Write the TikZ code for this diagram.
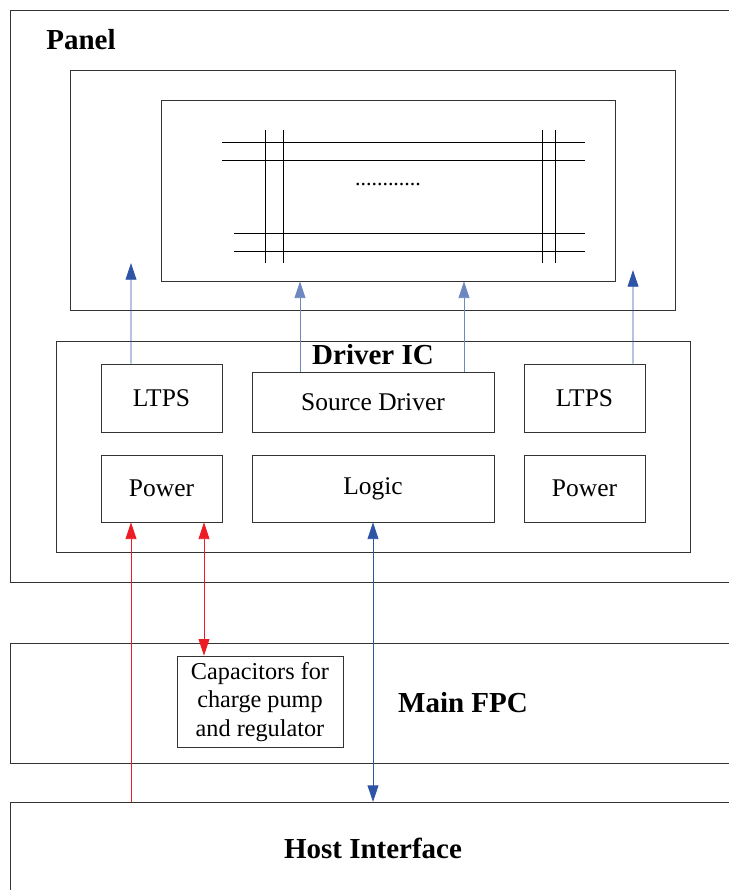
\documentclass[tikz,border=0pt]{standalone}
\usepackage{fontspec}
\setmainfont{Liberation Serif}
\usepackage{tikz}
\usetikzlibrary{arrows.meta,positioning,calc}
\definecolor{arrblue}{RGB}{46,84,166}
\definecolor{arrred}{RGB}{237,28,36}

\begin{document}
\begin{tikzpicture}[line width=0.5pt,
  font=\fontsize{14.5}{17}\selectfont,
  blk/.style={draw=black!80, minimum width=2.42cm, minimum height=1.36cm, inner sep=0pt},
  wide/.style={blk, minimum width=4.84cm},
  band/.style={draw=black!80, anchor=north west, minimum width=15cm, inner sep=0pt},
  ttl/.style={font=\fontsize{16.5}{19}\selectfont\bfseries},
  tip/.style={-{Triangle[length=9.5pt,width=6.2pt]}},
  both/.style={{Triangle[length=9.5pt,width=6.2pt]}-{Triangle[length=9.5pt,width=6.2pt]}},
]
\clip (0,0) rectangle (14.58,-17.8);
% panel
\node[band, minimum height=11.44cm] (panel) at (0.2,-0.2) {};
\node[ttl, anchor=west] (panelt) at (0.8,-0.8) {Panel};
\node[draw=black!80, minimum width=12.1cm, minimum height=4.8cm] (dispo) at (7.45,-3.8) {};
\node[draw=black!80, minimum width=9.08cm, minimum height=3.62cm] (dispi) at (7.76,-3.81) {};
\draw (4.44,-2.84) -- (11.7,-2.84);
\draw (4.44,-3.2) -- (11.7,-3.2);
\draw (4.68,-4.66) -- (11.7,-4.66);
\draw (4.68,-5.02) -- (11.7,-5.02);
\foreach \x in {5.3,5.66,10.84,11.1}
  \draw (\x,-2.6) -- (\x,-5.26);
\node[font=\fontsize{12.5}{14}\selectfont] (dots) at (7.76,-3.7) {............};
% driver IC
\node[draw=black!80, minimum width=12.68cm, minimum height=4.22cm] (ic) at (7.46,-8.93) {};
\node[ttl] (ict) at (7.46,-7.1) {Driver IC};
\node[blk] (ltps1) at (3.23,-7.96) {LTPS};
\node[wide, minimum height=1.2cm] (src) at (7.46,-8.04) {Source Driver};
\node[blk] (ltps2) at (11.69,-7.96) {LTPS};
\node[blk, minimum height=1.34cm] (pow1) at (3.23,-9.77) {Power};
\node[wide, minimum height=1.34cm] (logic) at (7.46,-9.77) {Logic};
\node[blk, minimum height=1.34cm] (pow2) at (11.69,-9.77) {Power};
% FPC and host
\node[band, minimum height=2.4cm] (fpc) at (0.2,-12.86) {};
\node[ttl] (fpct) at (9.26,-14.06) {Main FPC};
\node[draw=black!80, minimum width=3.32cm, minimum height=1.72cm, align=center,
  font=\fontsize{13.8}{16.4}\selectfont] (cap) at (5.2,-14.04)
  {Capacitors for\\charge pump\\and regulator};
\node[band, minimum height=3cm] (host) at (0.2,-16.04) {};
\node[ttl] (hostt) at (7.46,-16.96) {Host Interface};
% connections
\coordinate (l1) at ([xshift=-6.1mm]ltps1.north);
\coordinate (l1e) at (2.62,-5.26);
\coordinate (l2) at ([xshift=9.7mm]ltps2.north);
\coordinate (l2e) at (12.66,-5.4);
\draw[tip, arrblue] (l1) -- (l1e);
\draw[tip, arrblue] (l2) -- (l2e);
\coordinate (s1) at ([xshift=-14.6mm]src.north);
\coordinate (s2) at ([xshift=18.2mm]src.north);
\draw[tip, arrblue!70] (s1) -- (s1 |- dispi.south);
\draw[tip, arrblue!70] (s2) -- (s2 |- dispi.south);
\coordinate (p1) at ([xshift=-6.1mm]pow1.south);
\coordinate (p2) at ([xshift=8.5mm]pow1.south);
\draw[tip, arrred] (host.north -| p1) -- (p1);
\draw[both, arrred] (p2) -- (p2 |- cap.north);
\draw[both, arrblue] (logic.south) -- (host.north -| logic.south);
\end{tikzpicture}
\end{document}
